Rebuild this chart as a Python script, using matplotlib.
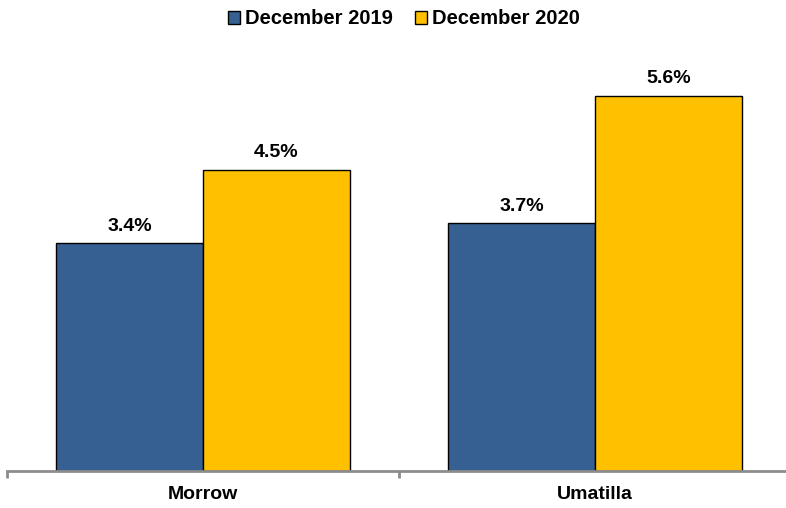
import matplotlib
matplotlib.use("Agg")
import matplotlib.pyplot as plt
import numpy as np

categories = ["Morrow", "Umatilla"]
series_names = ["December 2019", "December 2020"]
values_2019 = [3.4, 3.7]
values_2020 = [4.5, 5.6]
colors = ["#366092", "#FFC000"]

plt.rcParams['font.family'] = ['Liberation Sans', 'DejaVu Sans']

fig = plt.figure(figsize=(7.86, 5.08), dpi=100)
ax = fig.add_axes([7/786, 37/508, 784/786, 402/508])

x = np.arange(len(categories))
w = 0.375
b1 = ax.bar(x - w/2, values_2019, w, color=colors[0], edgecolor="black", linewidth=1.0, label=series_names[0])
b2 = ax.bar(x + w/2, values_2020, w, color=colors[1], edgecolor="black", linewidth=1.0, label=series_names[1])

for bars, vals in ((b1, values_2019), (b2, values_2020)):
    for r, v in zip(bars, vals):
        ax.annotate(f"{v:.1f}%", (r.get_x() + r.get_width()/2, v), xytext=(0, 6),
                    textcoords="offset points", ha="center", va="bottom",
                    fontsize=14, fontweight="bold")

ax.set_xlim(-0.5, 1.5)
ax.set_ylim(0, 6.0)
ax.set_yticks([])
for s in ["top", "right", "left"]:
    ax.spines[s].set_visible(False)
ax.spines["bottom"].set_color("#8c8c8c")
ax.spines["bottom"].set_linewidth(2)
ax.set_xticks(x)
ax.set_xticklabels(categories, fontsize=14, fontweight="bold")
ax.tick_params(axis="x", which="major", length=0, pad=11)
ax.set_xticks([-0.5, 0.5, 1.5], minor=True)
ax.tick_params(axis="x", which="minor", length=5, width=2, color="#8c8c8c")

leg = fig.legend(handles=[b1, b2], labels=series_names, loc="upper center",
                 bbox_to_anchor=(0.514, 1.017), ncol=2, frameon=False,
                 prop={"weight": "bold", "size": 14.5}, handlelength=0.6, handleheight=0.6,
                 handletextpad=0.25, columnspacing=1.1)

fig.savefig("out.png", dpi=100)
